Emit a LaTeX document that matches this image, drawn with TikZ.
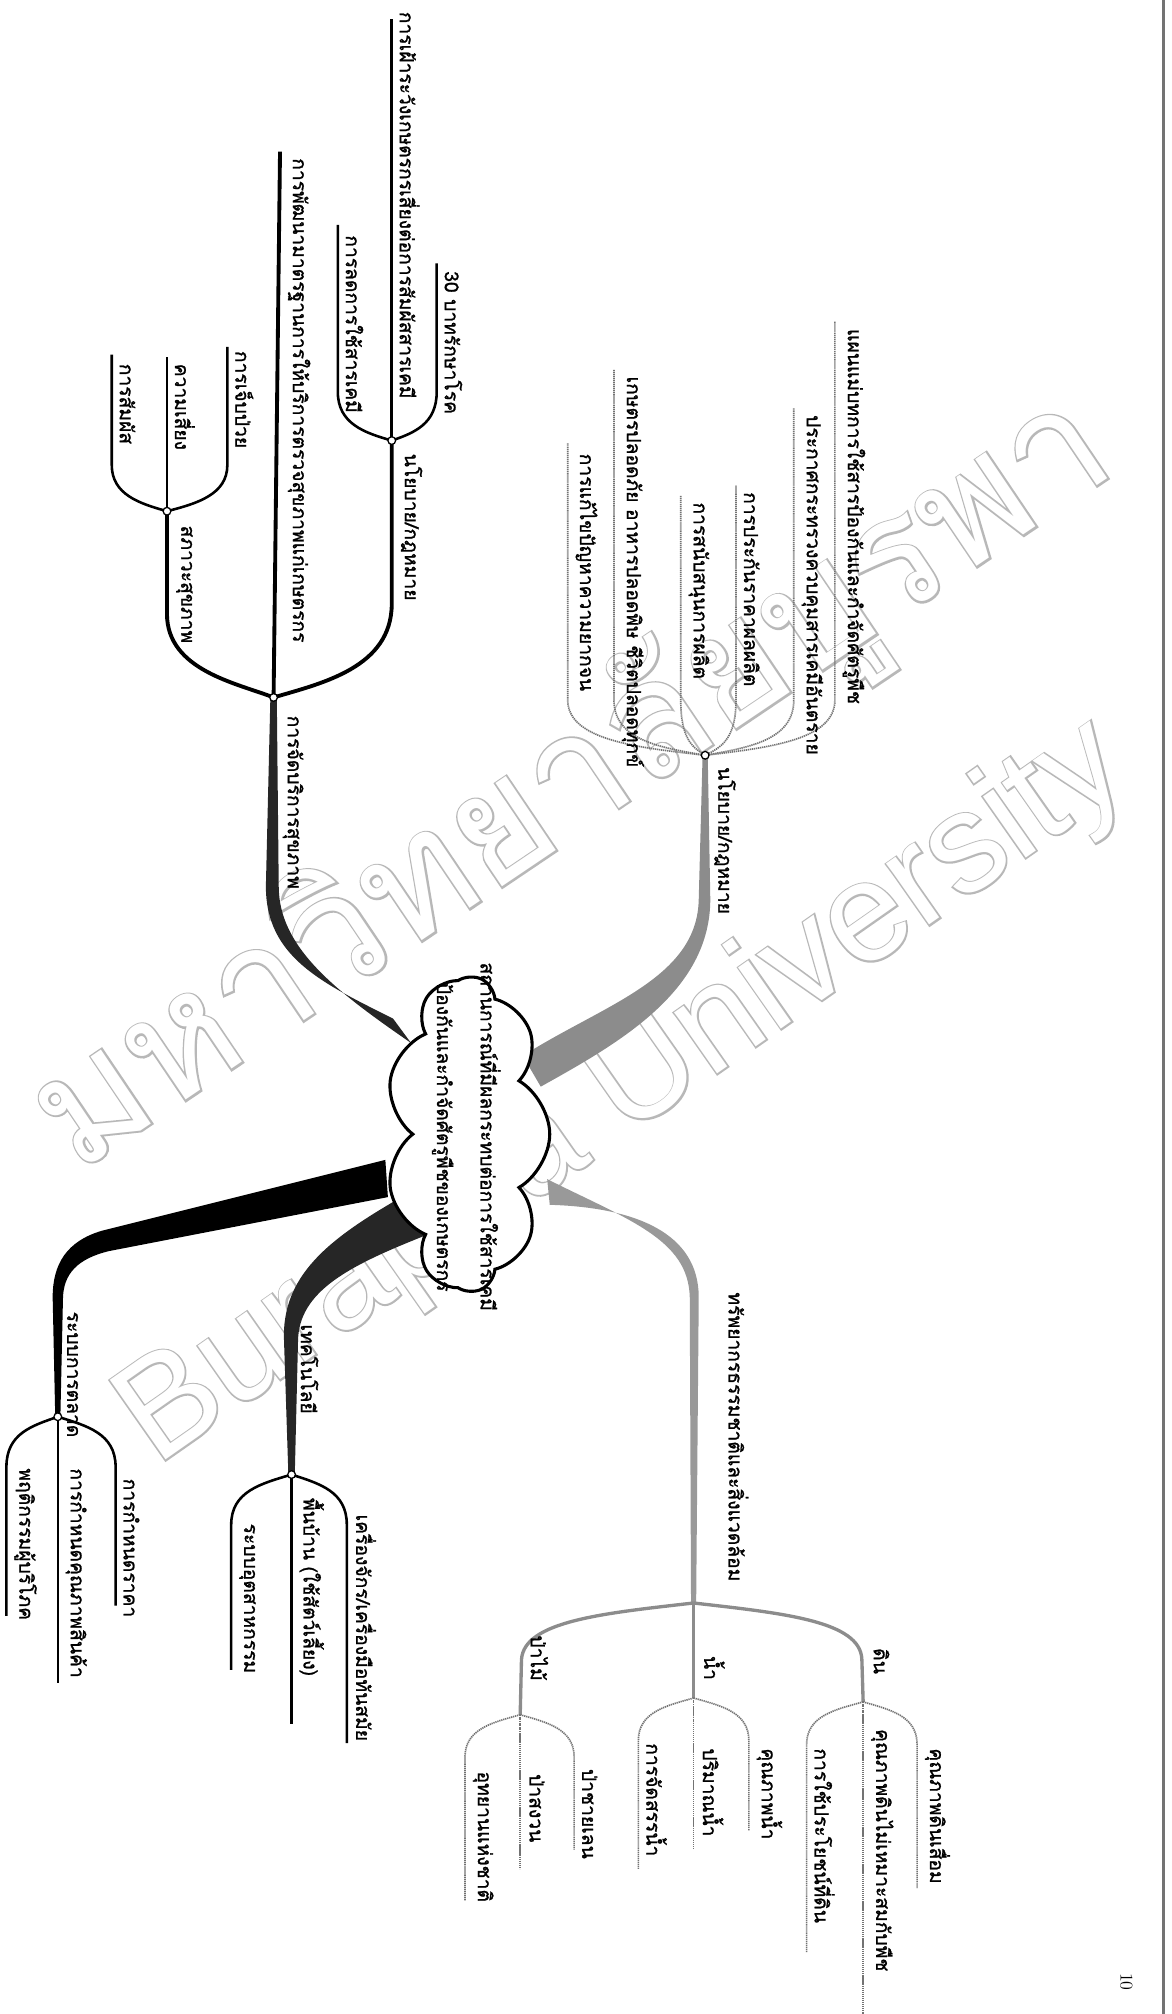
\documentclass[tikz,border=0pt]{standalone}
\usepackage{fontspec}
\newfontfamily\thaifont[Script=Thai,FakeBold=1.2]{Loma}
\newfontfamily\markth[Script=Thai,FakeBold=2.2]{Loma}
\newfontfamily\markthin[Script=Thai]{Loma}
\newfontfamily\marken[FakeBold=2.2]{Liberation Sans}
\newfontfamily\markenthin{Liberation Sans}
\usetikzlibrary{shapes.symbols,backgrounds}

\tikzset{
  lbl/.style={rotate=-90,anchor=south west,inner sep=1pt,
    font=\thaifont\fontsize{15}{18}\selectfont},
  jn/.style={circle,draw,fill=white,line width=1pt,inner sep=0pt,minimum size=6pt},
  jx/.style={inner sep=0pt,minimum size=0pt},
  twig/.style={line width=2pt},
  ptwig/.style={line width=1.3pt,black!55,dash pattern=on 1pt off 0.6pt},
  stem/.style={line width=3pt},
  pstem/.style={line width=2.6pt,black!45},
}
% hollow letters: stroked grey copy with a plain white copy on top
\newcommand{\hollowth}[1]{\makebox[0pt][l]{\color{black!28}\markth #1}{\color{white}\markthin #1}}
\newcommand{\hollowen}[1]{\makebox[0pt][l]{\color{black!28}\marken #1}{\color{white}\markenthin #1}}

\begin{document}
\begin{tikzpicture}[x=1pt,y=-1pt]
\useasboundingbox (0,0) rectangle (912,1568);

% centre
\node[cloud,draw,line width=2.4pt,fill=white,cloud puffs=9,cloud puff arc=120,
  aspect=1.9,rotate=-90,minimum width=245pt,minimum height=128pt] (core) at (364,883) {};
\node[rotate=-90,align=center,font=\thaifont\fontsize{15}{34}\selectfont] (coretxt) at (363,885)
  {สถานการณ์ที่มีผลกระทบต่อการใช้สารเคมี\\ป้องกันและกำจัดศัตรูพืชของเกษตรกร};

% junctions
\node[jn] (jA) at (213,543) {};
\node[jn] (jA1) at (130,398) {};
\node[jn] (jA3) at (305,343) {};
\node[jn] (jB) at (549,588) {};
\node[jn] (jC) at (45,1103) {};
\node[jn] (jD) at (227,1148) {};
\node[jx] (jE) at (540,1248) {};
\node[jx] (jF1) at (405,1335) {};
\node[jx] (jF2) at (540,1322) {};
\node[jx] (jF3) at (672,1325) {};

% health branch
\node[lbl] (tA) at (219,556) {การจัดบริการสุขภาพ};
\node[lbl] (tA1) at (136,408) {สภาวะสุขภาพ};
\node[lbl] (tA11) at (92,282) {การสัมผัส};
\node[lbl] (tA12) at (135,282) {ความเสี่ยง};
\node[lbl] (tA13) at (182,272) {การเจ็บป่วย};
\node[lbl] (tA2) at (223,122) {การพัฒนามาตรฐานการให้บริการตรวจสุขภาพแก่เกษตรกร};
\node[lbl] (tA3) at (311,352) {นโยบาย/กฎหมาย};
\node[lbl] (tA31) at (268,182) {การลดการใช้สารเคมี};
\node[lbl] (tA32) at (310,8) {การเฝ้าระวังเกษตรกรเสี่ยงต่อการสัมผัสสารเคมี};
\node[lbl] (tA33) at (345,210) {30 บาทรักษาโรค};

% policy branch
\node[lbl] (tB) at (555,596) {นโยบาย/กฎหมาย};
\node[lbl] (tB1) at (447,352) {การแก้ไขปัญหาความยากจน};
\node[lbl] (tB2) at (483,292) {เกษตรปลอดภัย อาหารปลอดพิษ ชีวิตปลอดทุกข์};
\node[lbl] (tB3) at (535,390) {การสนับสนุนการผลิต};
\node[lbl] (tB4) at (578,382) {การประกันราคาผลผลิต};
\node[lbl] (tB5) at (623,322) {ประกาศกระทรวงควบคุมสารเคมีอันตราย};
\node[lbl] (tB6) at (655,255) {แผนแม่บทการใช้สารป้องกันและกำจัดศัตรูพืช};

% market branch
\node[lbl] (tC) at (51,1020) {ระบบการตลาด};
\node[lbl] (tC1) at (10,1142) {พฤติกรรมผู้บริโภค};
\node[lbl] (tC2) at (50,1142) {การกำหนดคุณภาพสินค้า};
\node[lbl] (tC3) at (95,1150) {การกำหนดราคา};

% technology branch
\node[lbl] (tD) at (233,1030) {เทคโนโลยี};
\node[lbl] (tD1) at (185,1185) {ระบบอุตสาหกรรม};
\node[lbl] (tD2) at (232,1165) {พื้นบ้าน (ใช้สัตว์เลี้ยง)};
\node[lbl] (tD3) at (276,1178) {เครื่องจักร/เครื่องมือทันสมัย};

% resources branch
\node[lbl] (tE) at (566,1005) {ทรัพยากรธรรมชาติและสิ่งแวดล้อม};
\node[lbl] (tF1) at (412,1272) {ป่าไม้};
\node[lbl] (tF2) at (547,1288) {น้ำ};
\node[lbl] (tF3) at (679,1282) {ดิน};
\node[lbl] (tF11) at (367,1378) {อุทยานแห่งชาติ};
\node[lbl] (tF12) at (411,1380) {ป่าสงวน};
\node[lbl] (tF13) at (452,1376) {ป่าชายเลน};
\node[lbl] (tF21) at (502,1356) {การจัดสรรน้ำ};
\node[lbl] (tF22) at (546,1360) {ปริมาณน้ำ};
\node[lbl] (tF23) at (588,1360) {คุณภาพน้ำ};
\node[lbl] (tF31) at (633,1360) {การใช้ประโยชน์ที่ดิน};
\node[lbl] (tF32) at (677,1345) {คุณภาพดินไม่เหมาะสมกับพืช};
\node[lbl] (tF33) at (719,1360) {คุณภาพดินเสื่อม};

\node[rotate=-90,font=\fontsize{14}{15}\selectfont] (pgno) at (877,1543) {10};

\begin{scope}[on background layer]
  % watermark
  \node[rotate=34,font=\fontsize{125}{130}\selectfont] (wmth) at (447,612)
    {\hollowth{มหาวิทยาลัยบูรพา}};
  \node[rotate=35,font=\fontsize{110}{112}\selectfont] (wmen) at (486,852)
    {\hollowen{Burapha University}};

  % thick limbs
  \fill[black!85] (306,793) .. controls (250,765) and (207,745) .. (207,690)
    -- ([xshift=-2.5pt]jA.center) -- ([xshift=2.5pt]jA.center)
    -- (217,690) .. controls (217,738) and (262,772) .. (320,812) -- cycle;
  \fill[black!45] (407,822) .. controls (470,782) and (543,762) .. (544,700)
    -- ([xshift=-2pt]jB.center) -- ([xshift=2pt]jB.center)
    -- (553,700) .. controls (553,772) and (482,812) .. (421,846) -- cycle;
  \fill (300,903) -- (80,958) .. controls (52,966) and (41,984) .. (41,1010)
    -- ([xshift=-2pt]jC.center) -- ([xshift=2pt]jC.center)
    -- (49,1012) .. controls (49,992) and (60,980) .. (85,974) -- (302,932) -- cycle;
  \fill[black!85] (316,930) .. controls (260,962) and (221,990) .. (221,1040)
    -- ([xshift=-2.5pt]jD.center) -- ([xshift=2.5pt]jD.center)
    -- (232,1045) .. controls (232,1005) and (272,985) .. (336,960) -- cycle;
  \fill[black!40] (426,918) .. controls (490,950) and (536,965) .. (537,1010)
    -- ([xshift=-2pt]jE.center) -- ([xshift=2pt]jE.center)
    -- (544,1010) .. controls (544,960) and (495,940) .. (428,938) -- cycle;

  % health forks
  \draw[stem] (jA.center) .. controls (185,532) and (130,522) .. (130,478) -- (jA1.center);
  \draw[stem] (jA.center) -- (218,118);
  \draw[stem] (jA.center) .. controls (250,532) and (305,520) .. (305,470) -- (jA3.center);
  \foreach \x/\t in {87/276,130/278,177/270}
    \draw[twig] (jA1.center) .. controls ({(130+\x)/2},392) and (\x,385) .. (\x,362) -- (\x,\t);
  \foreach \x/\t in {263/175,305/15,340/205}
    \draw[twig] (jA3.center) .. controls ({(305+\x)/2},337) and (\x,330) .. (\x,305) -- (\x,\t);

  % policy fork
  \foreach \x/\t in {442/345,478/288,530/386,573/378,618/318,650/250}
    \draw[ptwig] (jB.center) .. controls ({(549+\x)/2},582) and (\x,576) .. (\x,545) -- (\x,\t);

  % market and technology forks
  \foreach \x/\b in {5/1258,45/1310,90/1250}
    \draw[twig] (jC.center) .. controls ({(45+\x)/2},1110) and (\x,1116) .. (\x,1142) -- (\x,\b);
  \foreach \x/\b in {180/1300,227/1342,270/1357}
    \draw[twig] (jD.center) .. controls ({(227+\x)/2},1155) and (\x,1161) .. (\x,1187) -- (\x,\b);

  % resources forks
  \draw[pstem] (jE.center) .. controls (470,1256) and (408,1262) .. (406,1292) -- (jF1.center);
  \draw[pstem] (jE.center) -- (jF2.center);
  \draw[pstem] (jE.center) .. controls (610,1256) and (670,1262) .. (671,1292) -- (jF3.center);
  \foreach \x/\b in {362/1480,405/1455,447/1440}
    \draw[ptwig] (jF1.center) .. controls ({(405+\x)/2},1341) and (\x,1346) .. (\x,1368) -- (\x,\b);
  \foreach \x/\b in {497/1455,540/1440,583/1425}
    \draw[ptwig] (jF2.center) .. controls ({(540+\x)/2},1328) and (\x,1333) .. (\x,1355) -- (\x,\b);
  \foreach \x/\b in {628/1520,672/1580,714/1470}
    \draw[ptwig] (jF3.center) .. controls ({(672+\x)/2},1331) and (\x,1336) .. (\x,1358) -- (\x,\b);

  % scan edge
  \draw[line width=2.5pt,black!55] (906,0) -- (906,1568);
\end{scope}
\end{tikzpicture}
\end{document}
